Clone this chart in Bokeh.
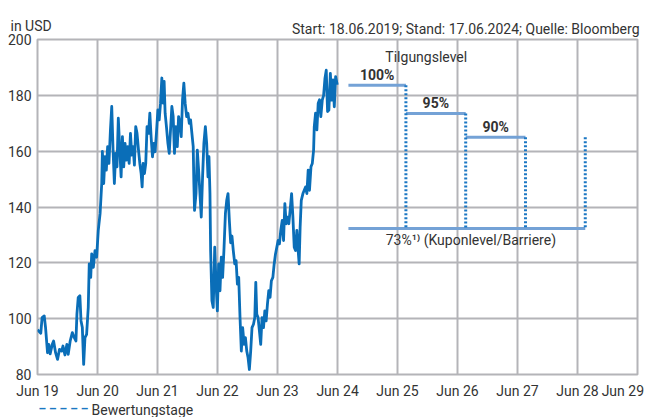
import pandas as pd
from bokeh.plotting import figure
from bokeh.models import FixedTicker, Label, ColumnDataSource, Range1d
from bokeh.embed import file_html
from bokeh.resources import INLINE

# ---------------- data ----------------
start_date = "2019-06-18"
# days after start date and closing prices in USD
price_days = [0, 20, 28, 41, 49, 61, 69, 77, 90, 98, 110, 122, 134, 147, 155, 167, 179, 187, 199, 212,
              224, 234, 240, 248, 258, 265, 273, 281, 289, 299, 309, 315, 324, 330, 340, 350, 360, 370, 381, 391,
              395, 403, 411, 419, 427, 435, 444, 452, 460, 468, 476, 484, 492, 501, 509, 517, 525, 533, 541, 549,
              558, 566, 574, 582, 590, 598, 606, 615, 623, 631, 637, 643, 651, 659, 667, 676, 684, 692, 700, 708,
              716, 724, 733, 741, 749, 757, 765, 771, 777, 785, 794, 802, 810, 818, 826, 834, 842, 851, 859, 867,
              875, 883, 891, 899, 908, 916, 924, 932, 940, 948, 952, 956, 965, 973, 981, 989, 997, 1005, 1013, 1022,
              1030, 1038, 1044, 1050, 1054, 1062, 1070, 1079, 1087, 1095, 1103, 1111, 1119, 1127, 1135, 1144, 1152, 1160, 1168, 1176,
              1184, 1192, 1201, 1209, 1217, 1225, 1233, 1241, 1249, 1258, 1266, 1274, 1282, 1290, 1298, 1306, 1315, 1323, 1329, 1335,
              1343, 1351, 1359, 1367, 1376, 1384, 1392, 1400, 1408, 1416, 1424, 1433, 1441, 1449, 1457, 1465, 1473, 1481, 1490, 1498,
              1506, 1514, 1522, 1530, 1538, 1547, 1555, 1563, 1571, 1579, 1587, 1593, 1599, 1606, 1616, 1624, 1632, 1640, 1648, 1656,
              1665, 1673, 1681, 1685, 1693, 1701, 1709, 1717, 1725, 1734, 1742, 1750, 1758, 1766, 1774, 1783, 1791, 1799, 1807, 1815,
              1825]
price_values = [96.0, 94.8, 100.4, 101.0, 96.8, 87.8, 90.8, 87.4, 90.8, 92.0, 87.8, 85.4, 89.0, 88.4, 90.2, 87.0, 90.8, 87.2, 92.0, 95.0,
                93.2, 92.0, 101.6, 107.6, 108.2, 99.2, 96.8, 83.6, 93.2, 94.4, 104.0, 119.6, 114.8, 123.2, 118.4, 124.4, 122.0, 131.6, 137.6, 148.4,
                159.9, 148.4, 158.0, 153.2, 161.6, 155.6, 167.6, 176.0, 160.4, 148.4, 159.2, 154.4, 171.8, 160.4, 150.8, 165.2, 154.4, 162.8, 156.8, 161.6,
                155.6, 166.4, 158.6, 161.6, 155.0, 168.8, 166.4, 160.4, 155.6, 152.0, 147.2, 155.6, 152.0, 155.6, 168.8, 166.4, 173.6, 164.8, 158.0, 162.8,
                159.8, 166.4, 174.8, 171.2, 177.2, 186.2, 177.2, 185.0, 173.6, 168.8, 162.8, 159.2, 167.6, 176.0, 172.4, 159.2, 168.8, 161.6, 172.4, 170.0,
                165.2, 178.4, 184.4, 177.2, 172.4, 173.6, 170.0, 171.2, 166.4, 161.6, 148.4, 138.8, 144.8, 160.4, 153.2, 144.8, 136.4, 150.8, 162.8, 168.8,
                162.8, 150.8, 158.0, 144.8, 124.4, 106.4, 104.0, 125.6, 112.4, 102.8, 119.6, 110.0, 122.0, 114.8, 124.4, 137.6, 142.4, 144.8, 135.2, 127.2,
                129.6, 124.4, 119.6, 120.8, 112.4, 114.8, 100.4, 88.4, 96.8, 90.8, 93.2, 88.4, 86.0, 81.8, 88.4, 96.8, 98.0, 100.4, 113.0, 101.6,
                100.4, 95.6, 90.8, 100.4, 96.8, 102.8, 99.2, 105.2, 110.0, 107.6, 113.6, 114.8, 119.6, 123.2, 125.6, 128.0, 126.8, 131.6, 135.2, 128.0,
                141.2, 134.0, 136.4, 134.0, 138.8, 144.8, 136.4, 125.6, 124.4, 131.6, 124.4, 119.6, 132.8, 142.4, 144.8, 146.0, 147.2, 144.8, 153.2, 146.0,
                154.4, 155.6, 160.4, 168.8, 173.6, 167.6, 177.2, 178.4, 172.4, 178.4, 180.0, 186.0, 189.0, 174.2, 174.7, 187.9, 178.3, 185.5, 175.9, 186.7,
                183.8]

tick_dates = ["2019-06-18", "2020-06-18", "2021-06-18", "2022-06-18", "2023-06-18", "2024-06-18",
              "2025-06-18", "2026-06-18", "2027-06-18", "2028-06-18", "2029-06-18"]
tick_labels = ["Jun 19", "Jun 20", "Jun 21", "Jun 22", "Jun 23", "Jun 24",
               "Jun 25", "Jun 26", "Jun 27", "Jun 28", "Jun 29"]
y_ticks = [80, 100, 120, 140, 160, 180, 200]

product_start = "2024-08-23"
valuation_dates = ["2025-08-08", "2026-08-07", "2027-08-06", "2028-08-04"]
redemption_levels = [183.6, 173.5, 165.0]
redemption_labels = ["100%", "95%", "90%"]
valuation_tops = [183.6, 173.5, 165.0, 165.0]
barrier_level = 132.3
barrier_label = "73%\u00b9\u207e (Kuponlevel/Barriere)"
header_left = "in USD"
header_right = "Start: 18.06.2019; Stand: 17.06.2024; Quelle: Bloomberg"
title_levels = "Tilgungslevel"
legend_label = "Bewertungstage"

# ---------------- style ----------------
EPOCH = pd.Timestamp("1970-01-01")


def ms(ts):
    return (pd.Timestamp(ts) - EPOCH) // pd.Timedelta("1ms")


FONT = "Roboto"
FS = "14px"
TXT = "#333333"
GRID = "#b4b4b8"
BLUE = "#0a6eb8"
LEVEL = "#74a2d6"
DOT = "#1b77c3"

start_ts = pd.Timestamp(start_date)
price_dates = [start_ts + pd.Timedelta(days=d) for d in price_days]
tick_ms = [ms(d) for d in tick_dates]

p = figure(frame_width=600, frame_height=335, x_axis_type="datetime",
           output_backend="svg", toolbar_location=None,
           min_border_left=37, min_border_right=10, min_border_top=39, min_border_bottom=42,
           x_range=Range1d(tick_ms[0], tick_ms[-1]), y_range=Range1d(80, 200))
p.background_fill_color = "white"
p.border_fill_color = "white"
p.outline_line_color = GRID
p.outline_line_width = 2

for ax in (p.xaxis[0], p.yaxis[0]):
    ax.axis_line_color = None
    ax.major_tick_line_color = None
    ax.minor_tick_line_color = None
    ax.major_tick_out = 0
    ax.major_tick_in = 0
    ax.minor_tick_out = 0
    ax.minor_tick_in = 0
    ax.major_label_text_font = FONT
    ax.major_label_text_font_size = FS
    ax.major_label_text_color = TXT

overrides = {t: l for t, l in zip(tick_ms, tick_labels)}
overrides[tick_ms[-1]] = tick_labels[-1] + "\u00a0"  # keep last label inside the canvas
p.xaxis.ticker = FixedTicker(ticks=tick_ms)
p.xaxis.major_label_overrides = overrides
p.xaxis.major_label_standoff = 8
p.yaxis.ticker = FixedTicker(ticks=y_ticks)
p.yaxis.major_label_standoff = 6

p.xgrid.ticker = FixedTicker(ticks=tick_ms)
p.ygrid.ticker = FixedTicker(ticks=y_ticks)
for g in (p.xgrid[0], p.ygrid[0]):
    g.grid_line_color = GRID
    g.grid_line_width = 2

# price line
src = ColumnDataSource(dict(x=price_dates, y=price_values))
p.line("x", "y", source=src, line_color=BLUE, line_width=2.8, line_join="round")

# redemption level lines
seg_starts = [pd.Timestamp(product_start)] + [pd.Timestamp(d) for d in valuation_dates[:2]]
seg_ends = [pd.Timestamp(d) for d in valuation_dates[:3]]
p.segment(x0=seg_starts, y0=redemption_levels, x1=seg_ends, y1=redemption_levels,
          line_color=LEVEL, line_width=3)

# barrier line
p.segment(x0=[pd.Timestamp(product_start)], y0=[barrier_level],
          x1=[pd.Timestamp(valuation_dates[-1])], y1=[barrier_level],
          line_color=LEVEL, line_width=3)

# valuation dates (dotted)
vd = [pd.Timestamp(d) for d in valuation_dates]
p.segment(x0=vd, y0=valuation_tops, x1=vd, y1=[barrier_level] * len(vd),
          line_color=DOT, line_width=3, line_dash="2 2")

# legend under the x axis: dashed sample + its text
p.add_layout(Label(x=tick_ms[0], y=80, text="\u2013 \u2013 \u2013 \u2013 \u2013", text_align="left",
                   text_baseline="middle", x_offset=1, y_offset=-34, text_font=FONT, text_font_size="12px",
                   text_font_style="bold", text_color=DOT), "below")
p.add_layout(Label(x=tick_ms[0], y=80, text=legend_label, text_align="left", text_baseline="top",
                   x_offset=54, y_offset=-27, text_font=FONT, text_font_size=FS, text_color=TXT), "below")

# level labels
for s, e, lv, lab in zip(seg_starts, seg_ends, redemption_levels, redemption_labels):
    mid = s + (e - s) / 2
    p.add_layout(Label(x=ms(mid), y=lv, text=lab, text_align="center", text_baseline="bottom",
                       y_offset=2, text_font=FONT, text_font_size=FS, text_font_style="bold",
                       text_color=TXT))

bmid = pd.Timestamp(product_start) + (pd.Timestamp(valuation_dates[-1]) - pd.Timestamp(product_start)) / 2
p.add_layout(Label(x=ms(bmid), y=barrier_level, text=barrier_label, text_align="center",
                   text_baseline="top", x_offset=4, y_offset=-4, text_font=FONT, text_font_size=FS,
                   text_color=TXT))

tmid = pd.Timestamp("2025-12-10")
p.add_layout(Label(x=ms(tmid), y=redemption_levels[0], text=title_levels, text_align="center",
                   text_baseline="alphabetic", y_offset=28, text_font=FONT, text_font_size=FS,
                   text_color=TXT))

# headers (in the panel above the frame)
p.add_layout(Label(x=tick_ms[0], y=200, text=header_left, text_align="left", text_baseline="alphabetic",
                   x_offset=-27, y_offset=14, text_font=FONT, text_font_size=FS, text_color=TXT), "above")
p.add_layout(Label(x=tick_ms[-1], y=200, text=header_right, text_align="right", text_baseline="alphabetic",
                   x_offset=2, y_offset=11, text_font=FONT, text_font_size=FS, text_color=TXT), "above")

open("out.html", "w").write(file_html(p, INLINE))
